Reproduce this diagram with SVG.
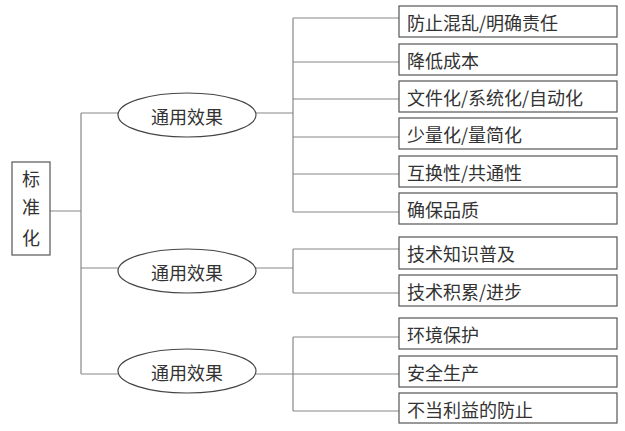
<svg xmlns="http://www.w3.org/2000/svg" width="625" height="431" viewBox="0 0 625 431">
<style>
.box{fill:#fff;stroke:#555;stroke-width:1.2}
.ell{fill:#fff;stroke:#444;stroke-width:1.2}
.ln{fill:none;stroke:#888;stroke-width:1.2}
text{font-family:"Noto Sans CJK SC","Noto Sans",sans-serif;font-size:18px;fill:#333;dominant-baseline:central}
.c{text-anchor:middle}
</style>
<rect width="625" height="431" fill="#fff"/>
<g id="connectors">
<path class="ln" d="M50 211H81M81 113V374M81 113H118M81 268H118M81 374H118"/>
<path class="ln" d="M256 113H293M293 18V212M293 18H399M293 62H399M293 99H399M293 137H399M293 174H399M293 212H399"/>
<path class="ln" d="M256 268H293M293 249V293M293 249H399M293 293H399"/>
<path class="ln" d="M256 374H399M293 337V411M293 337H399M293 411H399"/>
</g>
<g id="root"><rect class="box" x="12" y="162" width="38" height="93"/><text class="c" x="31" y="178">标</text><text class="c" x="31" y="206">准</text><text class="c" x="31" y="237">化</text></g>
<g id="e1"><ellipse class="ell" cx="187" cy="115" rx="69" ry="22"/><text class="c" x="187" y="116">通用效果</text></g>
<g id="e2"><ellipse class="ell" cx="187" cy="271" rx="69" ry="22"/><text class="c" x="187" y="272">通用效果</text></g>
<g id="e3"><ellipse class="ell" cx="187" cy="371" rx="69" ry="22"/><text class="c" x="187" y="372">通用效果</text></g>
<g id="b1"><rect class="box" x="399" y="6" width="218" height="31"/><text x="407" y="22">防止混乱/明确责任</text></g>
<g id="b2"><rect class="box" x="399" y="44" width="218" height="31"/><text x="407" y="60">降低成本</text></g>
<g id="b3"><rect class="box" x="399" y="81" width="218" height="31"/><text x="407" y="97">文件化/系统化/自动化</text></g>
<g id="b4"><rect class="box" x="399" y="118" width="218" height="31"/><text x="407" y="134">少量化/量简化</text></g>
<g id="b5"><rect class="box" x="399" y="156" width="218" height="31"/><text x="407" y="172">互换性/共通性</text></g>
<g id="b6"><rect class="box" x="399" y="193" width="218" height="31"/><text x="407" y="209">确保品质</text></g>
<g id="b7"><rect class="box" x="399" y="237" width="218" height="32"/><text x="407" y="253">技术知识普及</text></g>
<g id="b8"><rect class="box" x="399" y="275" width="218" height="31"/><text x="407" y="291">技术积累/进步</text></g>
<g id="b9"><rect class="box" x="399" y="318" width="218" height="31"/><text x="407" y="334">环境保护</text></g>
<g id="b10"><rect class="box" x="399" y="356" width="218" height="31"/><text x="407" y="372">安全生产</text></g>
<g id="b11"><rect class="box" x="399" y="393" width="218" height="30"/><text x="407" y="409">不当利益的防止</text></g>
</svg>
